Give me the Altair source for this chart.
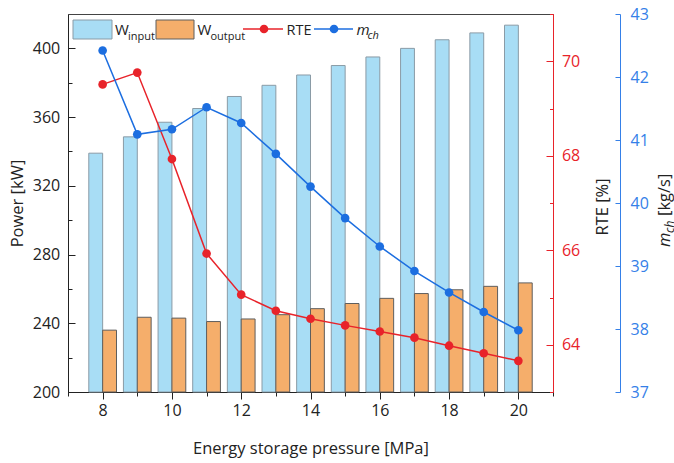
import altair as alt
import pandas as pd

# ---------------- data ----------------
pressure = [8, 9, 10, 11, 12, 13, 14, 15, 16, 17, 18, 19, 20]
w_input = [339, 348.5, 357, 365, 372, 378.5, 384.5, 390, 395, 400, 405, 409, 413.5]
w_output = [236, 243.5, 243, 241, 242.5, 245, 248.5, 251.5, 254.5, 257.3, 259.5, 261.5, 263.5]
rte = [69.51, 69.76, 67.93, 65.93, 65.06, 64.72, 64.55, 64.41, 64.28, 64.15, 63.98, 63.82, 63.66]
m_ch = [42.42, 41.09, 41.17, 41.52, 41.27, 40.78, 40.26, 39.76, 39.31, 38.92, 38.58, 38.27, 37.98]

x_ticks = list(range(7, 22))
power_ticks = list(range(200, 401, 20))
rte_ticks = list(range(63, 72))
mch_ticks = [37 + 0.5 * i for i in range(13)]

df = pd.DataFrame({"p": pressure, "w_input": w_input, "w_output": w_output,
                   "rte": rte, "m_ch": m_ch})

FONT = "Open Sans"
INK = "#222222"
RED = "#e8232a"
BLUE_LINE = "#1c6ee0"
BLUE_AX = "#3580e8"
BAR_BLUE = "#a8ddf5"
BAR_BLUE_STROKE = "#8a9ba6"
BAR_ORANGE = "#f5ae6b"
BAR_ORANGE_STROKE = "#5e5e5e"

x_scale = alt.Scale(domain=[7, 21], nice=False, zero=False)
x_axis = alt.Axis(
    values=x_ticks,
    labelExpr="datum.value % 2 === 0 ? datum.label : ''",
    tickSize={"expr": "datum.value % 2 === 0 ? 7 : 4"},
    labelPadding=3, labelFontSize=16, labelColor=INK, labelFont=FONT,
    domainColor=INK, tickColor=INK, grid=False,
    titleFontSize=16.5, titleFont=FONT, titleColor=INK, titleFontWeight="normal",
    titlePadding=22,
)
X_TITLE = "Energy storage pressure [MPa]"

power_scale = alt.Scale(domain=[200, 420], nice=False, zero=False)
power_axis = alt.Axis(
    values=power_ticks, orient="left",
    labelExpr="datum.value % 40 === 0 ? datum.label : ''",
    tickSize={"expr": "datum.value % 40 === 0 ? -7 : -4"},
    labelPadding=15.3, labelFontSize=16, labelColor=INK, labelFont=FONT,
    domainColor=INK, tickColor=INK, grid=False,
    titleFontSize=16.5, titleFont=FONT, titleColor=INK, titleFontWeight="normal",
    titlePadding=7,
)

rte_axis = alt.Axis(
    values=rte_ticks, orient="right", format="d",
    labelExpr="datum.value % 2 === 0 ? datum.label : ''",
    tickSize={"expr": "datum.value % 2 === 0 ? -7 : -3.5"},
    labelPadding=15.4, labelFontSize=16, labelColor=RED, labelFont=FONT,
    domainColor=RED, tickColor=RED, grid=False, title=None,
)

mch_axis = alt.Axis(
    values=mch_ticks, orient="right", offset=67, format="d",
    labelExpr="datum.value % 1 === 0 ? datum.label : ''",
    tickSize={"expr": "datum.value % 1 === 0 ? -5 : -2.7"},
    labelPadding=15, labelFontSize=16, labelColor=BLUE_AX, labelFont=FONT,
    domainColor=BLUE_AX, tickColor=BLUE_AX, grid=False, title=None,
)

base = alt.Chart(df)

bars_in = base.transform_calculate(left="datum.p - 0.4").mark_bar(
    fill=BAR_BLUE, stroke=BAR_BLUE_STROKE, strokeWidth=1
).encode(
    x=alt.X("left:Q", scale=x_scale, axis=x_axis, title=X_TITLE),
    x2="p:Q",
    y=alt.Y("w_input:Q", scale=power_scale, axis=power_axis, title="Power [kW]"),
    y2=alt.datum(200),
)

bars_out = base.transform_calculate(right="datum.p + 0.4").mark_bar(
    fill=BAR_ORANGE, stroke=BAR_ORANGE_STROKE, strokeWidth=1
).encode(
    x=alt.X("p:Q", scale=x_scale, axis=x_axis, title=X_TITLE),
    x2="right:Q",
    y=alt.Y("w_output:Q", scale=power_scale, axis=power_axis, title="Power [kW]"),
    y2=alt.datum(200),
)

bars = alt.layer(bars_in, bars_out)

rte_line = base.mark_line(
    color=RED, strokeWidth=1.5,
    point=alt.OverlayMarkDef(filled=True, size=75, color=RED, opacity=1),
).encode(
    x=alt.X("p:Q", scale=x_scale, axis=x_axis, title=X_TITLE),
    y=alt.Y("rte:Q", scale=alt.Scale(domain=[63, 71], nice=False, zero=False), axis=rte_axis),
)

mch_line = base.mark_line(
    color=BLUE_LINE, strokeWidth=1.5,
    point=alt.OverlayMarkDef(filled=True, size=75, color=BLUE_LINE, opacity=1),
).encode(
    x=alt.X("p:Q", scale=x_scale, axis=x_axis, title=X_TITLE),
    y=alt.Y("m_ch:Q", scale=alt.Scale(domain=[37, 43], nice=False, zero=False), axis=mch_axis),
)

# ---------------- legend (drawn by hand, inside the plot) ----------------
one = alt.Chart(pd.DataFrame({"k": [0]}))


def txt(s, x, y, size=15, style="normal", color=INK, angle=0, align="left"):
    return one.mark_text(text=s, align=align, baseline="alphabetic", fontSize=size,
                         font=FONT, fontStyle=style, color=color, angle=angle).encode(
        x=alt.value(x), y=alt.value(y))


legend = [
    one.mark_rect(fill=BAR_BLUE, stroke=BAR_BLUE_STROKE, strokeWidth=1).encode(
        x=alt.value(5), x2=alt.value(44), y=alt.value(6), y2=alt.value(25)),
    txt("W", 47, 20.5),
    txt("input", 60, 25.5, size=11),
    one.mark_rect(fill=BAR_ORANGE, stroke=BAR_ORANGE_STROKE, strokeWidth=1).encode(
        x=alt.value(88), x2=alt.value(126), y=alt.value(6), y2=alt.value(25)),
    txt("W", 129.5, 20.5),
    txt("output", 142.5, 25.5, size=11),
    one.mark_rule(color=RED, strokeWidth=1.5).encode(
        x=alt.value(175), x2=alt.value(215), y=alt.value(15)),
    one.mark_point(filled=True, size=75, color=RED, opacity=1).encode(
        x=alt.value(196), y=alt.value(15)),
    txt("RTE", 218.5, 20.5, size=14.5),
    one.mark_rule(color=BLUE_LINE, strokeWidth=1.5).encode(
        x=alt.value(246), x2=alt.value(285), y=alt.value(15)),
    one.mark_point(filled=True, size=75, color=BLUE_LINE, opacity=1).encode(
        x=alt.value(266), y=alt.value(15)),
    txt("m", 288.5, 20.5, size=15, style="italic"),
    txt("ch", 299.5, 24.5, size=11, style="italic"),
]

# ---------------- right-hand axis titles ----------------
titles = [
    txt("RTE [%]", 540, 193, size=16.5, angle=270, align="center"),
    txt("m", 602, 233, size=16.5, style="italic", angle=270),
    txt("ch", 606, 219, size=12, style="italic", angle=270),
    txt("[kg/s]", 602, 202, size=16.5, angle=270),
]

chart = alt.layer(bars, rte_line, mch_line, *legend, *titles).resolve_scale(
    y="independent"
).properties(
    width=485, height=378, autosize="none",
    padding={"left": 68, "top": 14, "right": 121, "bottom": 71},
).configure(font=FONT).configure_view(stroke="#444444", strokeWidth=1)

chart.save("out.html", embed_options={"renderer": "svg", "actions": False})
